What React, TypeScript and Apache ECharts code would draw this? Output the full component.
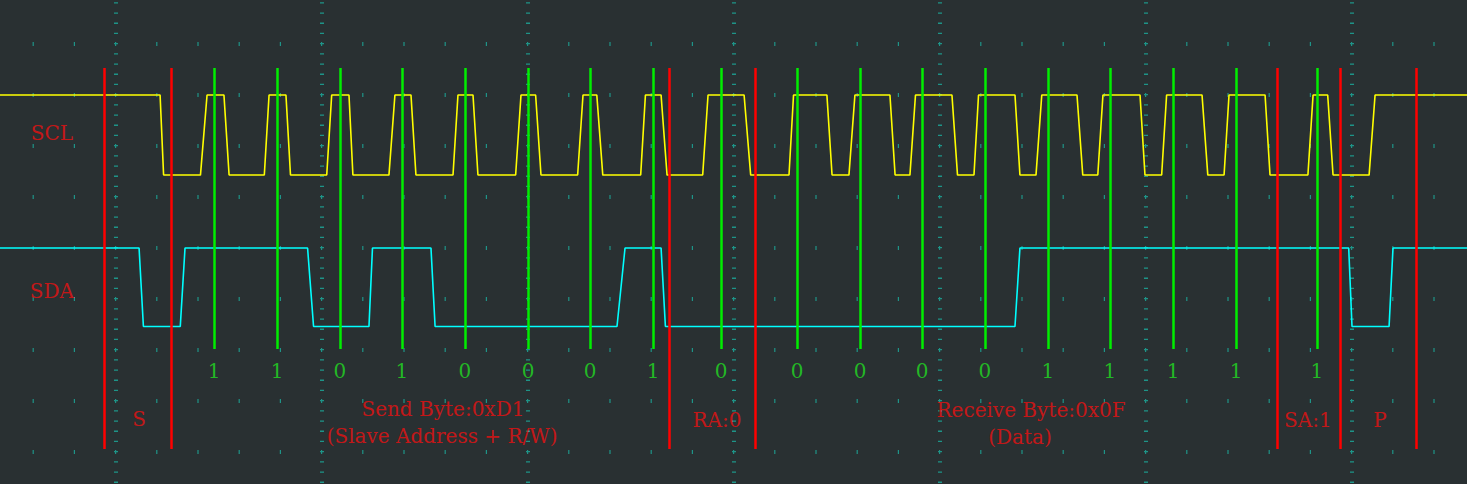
import { useEffect, useRef } from "react";
import * as echarts from "echarts";

// Time axis in microseconds (10 µs per major division); vertical axis in screen divisions.
const SCL_HIGH = 8.0;
const SCL_LOW = 6.43;
const SDA_HIGH = 5.0;
const SDA_LOW = 3.46;
const T_START = -6;
const T_END = 66;

// [edge start, edge end] for every SCL transition (first one falls, starting from idle high)
const sclEdges: [number, number][] = [
  [2.14, 2.31], [4.1, 4.42], [5.24, 5.49], [7.2, 7.43], [8.25, 8.47], [10.23, 10.47],
  [11.31, 11.5], [13.25, 13.54], [14.32, 14.56], [16.36, 16.6], [17.33, 17.57], [19.4, 19.66],
  [20.37, 20.63], [22.41, 22.67], [23.34, 23.63], [25.47, 25.7], [26.46, 26.75], [28.48, 28.74],
  [30.49, 30.81], [32.67, 32.89], [34.51, 34.76], [35.58, 35.87], [37.57, 37.82], [38.54, 38.81],
  [40.58, 40.85], [41.65, 41.87], [43.64, 43.88], [44.66, 44.94], [46.65, 46.93], [47.66, 47.91],
  [49.71, 49.95], [50.76, 51.0], [52.72, 53.0], [53.79, 54.03], [55.78, 56.02], [57.86, 58.11],
  [58.82, 59.08], [60.83, 61.12],
];

// [edge start, edge end] for every SDA transition (first one falls, starting from idle high)
const sdaEdges: [number, number][] = [
  [1.12, 1.33], [3.12, 3.35], [9.3, 9.59], [12.28, 12.45], [15.29, 15.49], [24.32, 24.71],
  [26.46, 26.67], [43.64, 43.88], [59.84, 60.0], [61.8, 61.99],
];

// sampled bits (green markers)
const bitTimes = [
  4.76, 7.82, 10.87, 13.88, 16.94, 20.0, 23.01, 26.07, 29.37,
  33.06, 36.12, 39.13, 42.18, 45.24, 48.25, 51.31, 54.37, 58.3,
];
const bitValues = ["1", "1", "0", "1", "0", "0", "0", "1", "0", "0", "0", "0", "0", "1", "1", "1", "1", "1"];
const BIT_LABEL_LEVEL = 2.59;

// frame boundaries (red markers)
const boundaryTimes = [-0.58, 2.67, 26.84, 31.02, 56.36, 59.42, 63.11];

const MARK_TOP = 8.53;
const GREEN_BOTTOM = 3.02;
const RED_BOTTOM = 1.06;

// segment annotations
const segmentLabels = ["S", "Send Byte:0xD1", "(Slave Address + R/W)", "RA:0", "Receive Byte:0x0F", "(Data)", "SA:1", "P"];
const segmentTimes = [1.12, 15.87, 15.83, 29.17, 44.42, 43.88, 57.86, 61.36];
const segmentLevels = [1.65, 1.84, 1.31, 1.63, 1.82, 1.29, 1.63, 1.63];

const channelNames = ["SCL", "SDA"];
const channelTimes = [-3.11, -3.11];
const channelLevels = [7.25, 4.16];

const BG = "#293032";
const GRID = "#1e9488";
const FONT = "DejaVu Serif";

// screen: 20.6 px per µs, 51 px per vertical division; the plot extends past the window
const X_MIN = -10;
const X_MAX = 80;
const Y_MIN = 0;
const Y_MAX = 10;

function buildTrace(edges: [number, number][], high: number, low: number) {
  let isHigh = true;
  const pts: [number, number][] = [[T_START, high]];
  for (const [a, b] of edges) {
    pts.push([a, isHigh ? high : low]);
    isHigh = !isHigh;
    pts.push([b, isHigh ? high : low]);
  }
  pts.push([T_END, isHigh ? high : low]);
  return pts;
}

export default function App() {
  const ref = useRef<HTMLDivElement>(null);
  useEffect(() => {
    if (!ref.current) return;
    document.body.style.background = BG;
    const chart = echarts.init(ref.current, null, { renderer: "svg" });
    chart.setOption({
      animation: false,
      backgroundColor: BG,
      grid: { left: 0, right: 0, top: 0, bottom: 0, containLabel: false },
      xAxis: {
        type: "value",
        min: X_MIN,
        max: X_MAX,
        interval: 10,
        axisLine: { show: false },
        axisTick: { show: false },
        axisLabel: { show: false },
        splitLine: { show: true, lineStyle: { color: GRID, width: 4, type: [1.3, 8.9], dashOffset: 0.65 } },
      },
      yAxis: {
        type: "value",
        min: Y_MIN,
        max: Y_MAX,
        interval: 1,
        axisLine: { show: false },
        axisTick: { show: false },
        axisLabel: { show: false },
        splitLine: { show: true, lineStyle: { color: GRID, width: 4, type: [1.2, 40], dashOffset: 0.6 } },
      },
      series: [
        {
          type: "line",
          name: "SCL",
          data: buildTrace(sclEdges, SCL_HIGH, SCL_LOW),
          showSymbol: false,
          lineStyle: { color: "#ffff00", width: 1.6 },
          z: 2,
          silent: true,
        },
        {
          type: "line",
          name: "SDA",
          data: buildTrace(sdaEdges, SDA_HIGH, SDA_LOW),
          showSymbol: false,
          lineStyle: { color: "#00ffff", width: 1.6 },
          z: 2,
          silent: true,
        },
        {
          type: "lines",
          coordinateSystem: "cartesian2d",
          z: 4,
          silent: true,
          lineStyle: { color: "#00ee00", width: 2.5, opacity: 1 },
          data: bitTimes.map((t) => ({ coords: [[t, GREEN_BOTTOM], [t, MARK_TOP]] })),
        },
        {
          type: "lines",
          coordinateSystem: "cartesian2d",
          z: 5,
          silent: true,
          lineStyle: { color: "#ff0000", width: 2.5, opacity: 1 },
          data: boundaryTimes.map((t) => ({ coords: [[t, RED_BOTTOM], [t, MARK_TOP]] })),
        },
        {
          type: "scatter",
          z: 6,
          silent: true,
          symbolSize: 1,
          itemStyle: { color: "transparent" },
          data: bitValues.map((v, i) => ({ name: v, value: [bitTimes[i], BIT_LABEL_LEVEL] })),
          label: { show: true, position: "inside", formatter: "{b}", color: "#22dd22", fontFamily: FONT, fontSize: 20 },
        },
        {
          type: "scatter",
          z: 6,
          silent: true,
          symbolSize: 1,
          itemStyle: { color: "transparent" },
          data: [
            ...segmentLabels.map((s, i) => ({ name: s, value: [segmentTimes[i], segmentLevels[i]] })),
            ...channelNames.map((s, i) => ({ name: s, value: [channelTimes[i], channelLevels[i]] })),
          ],
          label: { show: true, position: "inside", formatter: "{b}", color: "#ee1111", fontFamily: FONT, fontSize: 20 },
        },
      ],
    });
    return () => chart.dispose();
  }, []);
  return (
    <div
      ref={ref}
      style={{ position: "fixed", left: -90, top: -7, width: 1854, height: 510, background: BG }}
    />
  );
}
